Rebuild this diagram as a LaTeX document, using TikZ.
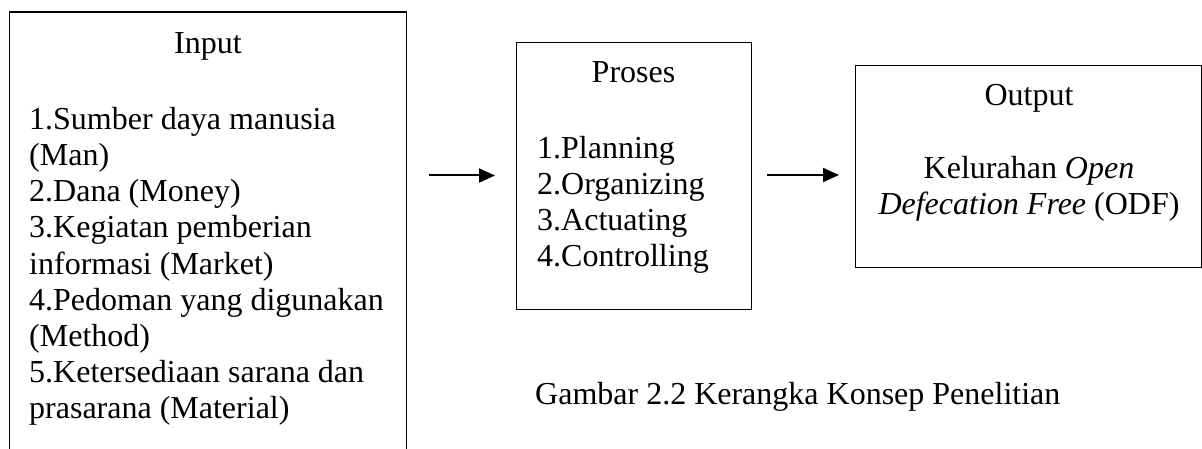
\documentclass[tikz,border=0pt]{standalone}
\usepackage{fontspec}
\setmainfont{Liberation Serif}
\usetikzlibrary{arrows.meta}
\tikzset{
  boxline/.style={line width=1.3pt, draw=black},
  box/.style={boxline, rectangle, inner sep=0pt, anchor=north west},
  txt/.style={inner sep=0pt, font=\fontsize{32}{36.2}\selectfont},
  listtxt/.style={txt, align=left, anchor=north west},
  ctxt/.style={txt, align=center, anchor=north},
  arr/.style={line width=2pt, -{Triangle[length=16pt,width=14pt]}}
}
\newcommand{\fl}{\rule{0pt}{25pt}}
\begin{document}
\begin{tikzpicture}[x=1pt,y=-1pt]
\useasboundingbox (0,0) rectangle (1202,449);
% Input box (open at the bottom)
\coordinate (inBL) at (9.5,449);
\coordinate (inTL) at (9.5,12);
\coordinate (inTR) at (406.5,12);
\coordinate (inBR) at (406.5,449);
\draw[boxline] (inBL) -- (inTL) -- (inTR) -- (inBR);
\node[ctxt] (inTitle) at (208,53-25) {\fl Input};
\node[listtxt] (inList) at (29,129-25) {\fl 1.Sumber daya manusia\\(Man)\\2.Dana (Money)\\3.Kegiatan pemberian\\informasi (Market)\\4.Pedoman yang digunakan\\(Method)\\5.Ketersediaan sarana dan\\prasarana (Material)};
% Proses box
\node[box, minimum width=235pt, minimum height=267pt] (proses) at (516,42) {};
\node[ctxt] (prTitle) at (633.5,82-25) {\fl Proses};
\node[listtxt] (prList) at (537,158-25) {\fl 1.Planning\\2.Organizing\\3.Actuating\\4.Controlling};
% Output box
\node[box, minimum width=345.5pt, minimum height=202pt] (output) at (855,65) {};
\node[ctxt] (ouTitle) at (1029,105-25) {\fl Output};
\node[ctxt] (ouText) at (1029,178-25) {\fl Kelurahan \textit{Open}\\\textit{Defecation Free} (ODF)};
% Arrows
\coordinate (a1s) at (429,175.5);
\coordinate (a1e) at (495,175.5);
\coordinate (a2s) at (767,175);
\coordinate (a2e) at (839,175);
\draw[arr] (a1s) -- (a1e);
\draw[arr] (a2s) -- (a2e);
% Caption
\node[txt, anchor=base west] (caption) at (535,404) {Gambar 2.2 Kerangka Konsep Penelitian};
\end{tikzpicture}
\end{document}
